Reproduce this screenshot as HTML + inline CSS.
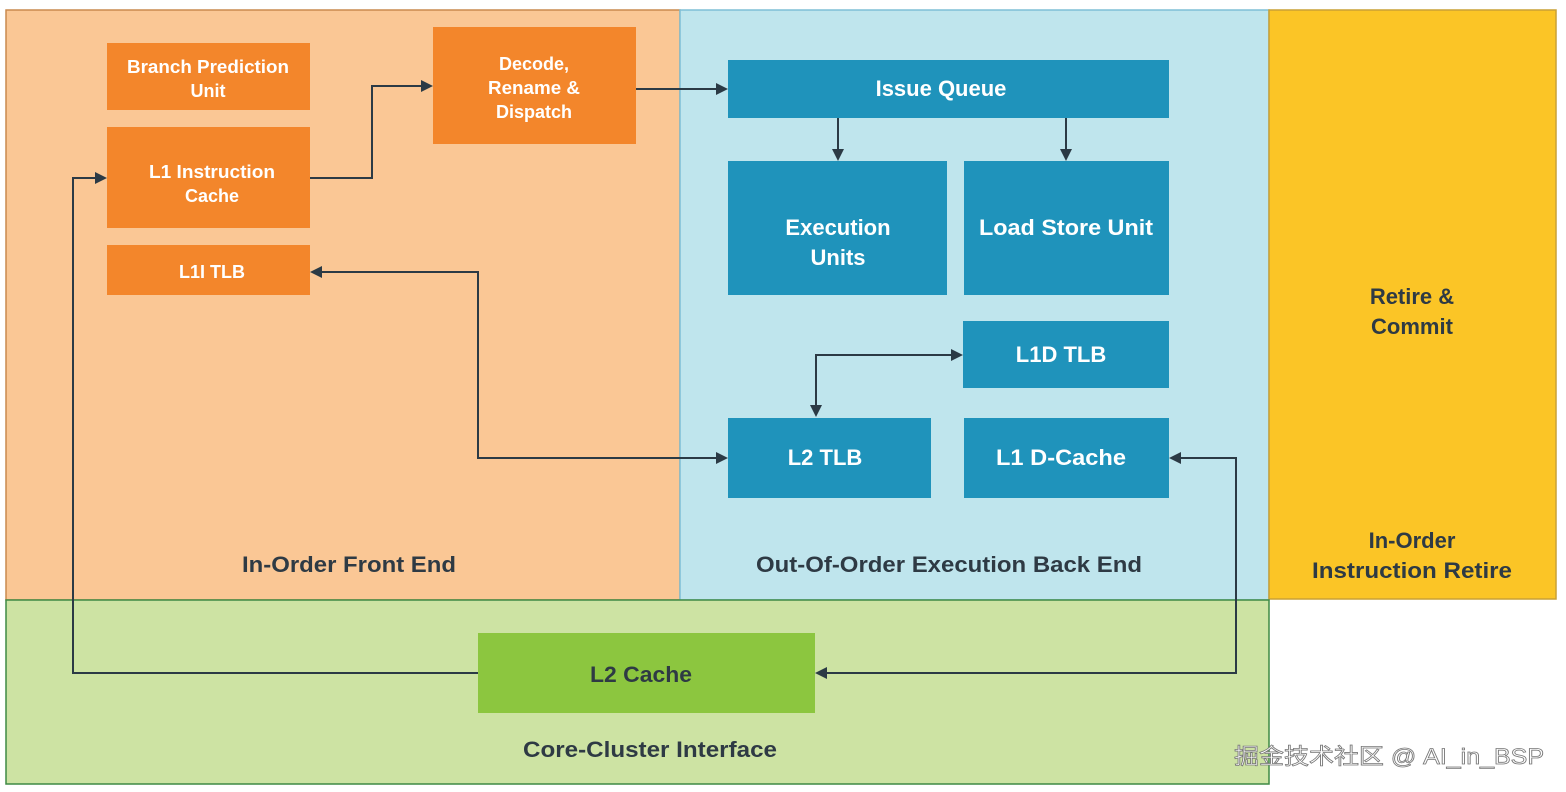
<!DOCTYPE html>
<html><head><meta charset="utf-8"><style>
html,body{margin:0;padding:0;background:#fff;width:1566px;height:792px;overflow:hidden}
svg{display:block}
text{font-family:"Liberation Sans",sans-serif;font-weight:bold}
.w{fill:#fff}
.d{fill:#2e3a44}
</style></head><body>
<svg width="1566" height="792" viewBox="0 0 1566 792" xmlns="http://www.w3.org/2000/svg">
<defs>
<marker id="a" viewBox="0 0 10 10" refX="10" refY="5" markerWidth="5" markerHeight="5" orient="auto-start-reverse" markerUnits="userSpaceOnUse">
</marker>
</defs>
<!-- regions -->
<rect x="6" y="10" width="674" height="590" fill="#fac795" stroke="#c98a4e" stroke-width="1.5"/>
<rect x="680" y="10" width="589" height="590" fill="#bfe5ed" stroke="#7fbfd6" stroke-width="1.5"/>
<rect x="1269" y="10" width="287" height="589" fill="#fbc526" stroke="#c9a035" stroke-width="1.5"/>
<rect x="6" y="600" width="1263" height="184" fill="#cde3a3" stroke="#3f8a44" stroke-width="1.5"/>

<!-- orange boxes -->
<g fill="#f3862b">
<rect x="107" y="43" width="203" height="67"/>
<rect x="107" y="127" width="203" height="101"/>
<rect x="107" y="245" width="203" height="50"/>
<rect x="433" y="27" width="203" height="117"/>
</g>
<!-- blue boxes -->
<g fill="#1f93bb">
<rect x="728" y="60" width="441" height="58"/>
<rect x="728" y="161" width="219" height="134"/>
<rect x="964" y="161" width="205" height="134"/>
<rect x="963" y="321" width="206" height="67"/>
<rect x="728" y="418" width="203" height="80"/>
<rect x="964" y="418" width="205" height="80"/>
</g>
<rect x="478" y="633" width="337" height="80" fill="#8cc63f"/>

<!-- connectors -->
<g fill="none" stroke="#2b3a45" stroke-width="2">
<polyline points="310,178 372,178 372,86 422,86"/>
<polyline points="636,89 717,89"/>
<polyline points="838,118 838,150"/>
<polyline points="1066,118 1066,150"/>
<polyline points="952,355 816,355 816,406"/>
<polyline points="321,272 478,272 478,458 717,458"/>
<polyline points="1180,458 1236,458 1236,673 826,673"/>
<polyline points="478,673 73,673 73,178 96,178"/>
</g>
<g fill="#2b3a45">
<polygon points="433,86 421,80 421,92"/>
<polygon points="728,89 716,83 716,95"/>
<polygon points="838,161 832,149 844,149"/>
<polygon points="1066,161 1060,149 1072,149"/>
<polygon points="963,355 951,349 951,361"/>
<polygon points="816,417 810,405 822,405"/>
<polygon points="310,272 322,266 322,278"/>
<polygon points="728,458 716,452 716,464"/>
<polygon points="1169,458 1181,452 1181,464"/>
<polygon points="815,673 827,667 827,679"/>
<polygon points="107,178 95,172 95,184"/>
</g>

<!-- labels -->
<g class="w" text-anchor="middle" font-size="18">
<text x="208" y="73" textLength="162" lengthAdjust="spacingAndGlyphs">Branch Prediction</text>
<text x="208" y="97">Unit</text>
<text x="212" y="178" textLength="126" lengthAdjust="spacingAndGlyphs">L1 Instruction</text>
<text x="212" y="202">Cache</text>
<text x="212" y="278">L1I TLB</text>
<text x="534" y="70">Decode,</text>
<text x="534" y="94" textLength="92" lengthAdjust="spacingAndGlyphs">Rename &amp;</text>
<text x="534" y="118">Dispatch</text>
</g>
<g class="w" text-anchor="middle" font-size="22">
<text x="941" y="96">Issue Queue</text>
<text x="838" y="235">Execution</text>
<text x="838" y="265">Units</text>
<text x="1066" y="235" textLength="174" lengthAdjust="spacingAndGlyphs">Load Store Unit</text>
<text x="1061" y="362">L1D TLB</text>
<text x="825" y="465">L2 TLB</text>
<text x="1061" y="465" textLength="130" lengthAdjust="spacingAndGlyphs">L1 D-Cache</text>
</g>
<g class="d" text-anchor="middle" font-size="22">
<text x="641" y="682" textLength="102" lengthAdjust="spacingAndGlyphs">L2 Cache</text>
<text x="349" y="572" textLength="214" lengthAdjust="spacingAndGlyphs">In-Order Front End</text>
<text x="949" y="572" textLength="386" lengthAdjust="spacingAndGlyphs">Out-Of-Order Execution Back End</text>
<text x="650" y="757" textLength="254" lengthAdjust="spacingAndGlyphs">Core-Cluster Interface</text>
<text x="1412" y="304">Retire &amp;</text>
<text x="1412" y="334">Commit</text>
<text x="1412" y="548">In-Order</text>
<text x="1412" y="578" textLength="200" lengthAdjust="spacingAndGlyphs">Instruction Retire</text>
</g>
<text x="1234" y="764" font-size="22" fill="#fff" stroke="#777" stroke-width="0.8" style="font-family:'Liberation Sans','Noto Sans CJK SC',sans-serif;font-weight:normal" textLength="310" lengthAdjust="spacingAndGlyphs">掘金技术社区 @ AI_in_BSP</text>
</svg>
</body></html>
